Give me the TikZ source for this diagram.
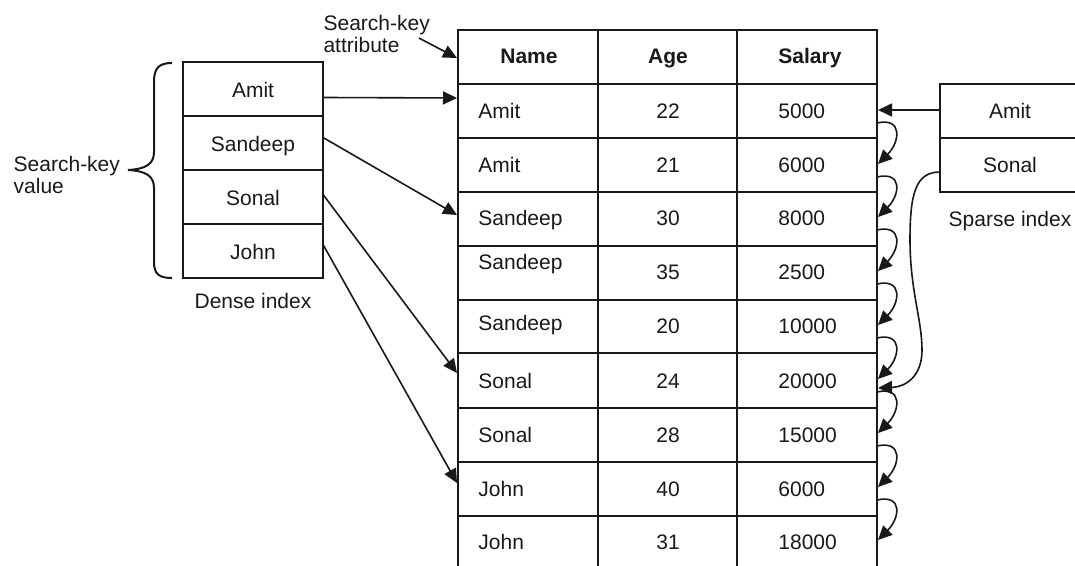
\documentclass[tikz,border=0pt]{standalone}
\usepackage{fontspec}
\setmainfont{Liberation Sans}
\usepackage{tikz}
\usetikzlibrary{arrows.meta, positioning}

\begin{document}
\begin{tikzpicture}[
    x=0.5pt, y=-0.5pt,
    color=black!90,
    font=\fontsize{10.5}{10.8}\selectfont,
    node distance=0pt,
    idx/.style={rectangle, draw, line width=1pt, outer sep=0pt, minimum width=70pt, minimum height=27pt, text height=7.6pt, text depth=0pt},
    txt/.style={inner sep=0pt},
    head/.style={txt, font=\fontsize{10.5}{10.8}\selectfont\bfseries},
    grid/.style={draw, line width=1pt, line cap=rect},
    arrow/.style={-{Triangle[length=7pt, width=6.5pt]}, line width=0.8pt},
    hop/.style={arrow}
]
\useasboundingbox (0,0) rectangle (1075,566);

% table grid, open at the bottom
\foreach \yy in {30,84,138,192,246,300,353,408,462,516}
  \draw [grid] (458,\yy) -- (877,\yy);
\foreach \xx in {458,598,737,877}
  \draw [grid] (\xx,30) -- (\xx,575);

\node (hName) [head, anchor=base] at (529,64) {Name};
\node (hAge) [head, anchor=base] at (668,64) {Age};
\node (hSalary) [head, anchor=base west] at (778,64) {Salary};

\foreach \nm/\ag/\sal/\yb/\yn [count=\i] in {Amit/22/5000/119/119, Amit/21/6000/173/173,
    Sandeep/30/8000/226/226, Sandeep/35/2500/280/270, Sandeep/20/10000/334/330,
    Sonal/24/20000/388/388, Sonal/28/15000/442/442, John/40/6000/496/496, John/31/18000/549/549}{
  \node (name\i) [txt, anchor=base west] at (478,\yn) {\nm};
  \node (age\i) [txt, anchor=base] at (668,\yb) {\ag};
  \node (sal\i) [txt, anchor=base west] at (778,\yb) {\sal};
  \coordinate (rin\i) at (878,\yb-9);
  \coordinate (rout\i) at (877,\yb+4);
}

% dense index
\node (dAmit) [idx] at (253,89.5) {Amit};
\node (dSandeep) [idx, below=of dAmit] {Sandeep};
\node (dSonal) [idx, below=of dSandeep] {Sonal};
\node (dJohn) [idx, below=of dSonal] {John};
\node (dlabel) [below=4pt of dJohn] {Dense index};

% sparse index
\node (sAmit) [idx] at (1010,111) {Amit};
\node (sSonal) [idx, below=of sAmit] {Sonal};
\node (slabel) [below=6pt of sSonal] {Sparse index};

\node (attr) [align=left, anchor=west] at (316.5,34) {Search-key\\attribute};
\coordinate (btip) at (128,170);
\node (skv) [align=left, left=0.5pt of btip, yshift=-2.5pt] {Search-key\\value};
\draw [line width=1pt] (172,63) .. controls (159,63) and (154,68) .. (154,82) -- (154,152)
  .. controls (154,164) and (146,169) .. (btip) .. controls (146,171) and (154,176) .. (154,188)
  -- (154,262) .. controls (154,274) and (159,278) .. (172,278);

\coordinate (tHead) at (457,58);
\coordinate (tAmit) at (457,98);
\coordinate (tSandeep) at (457,215);
\coordinate (tSonal) at (457,373);
\coordinate (tJohn) at (457,483);
\coordinate (rSonal) at (878,388);

\draw [arrow] ([shift={(-9pt,-2pt)}]attr.east) -- (tHead);
\draw [arrow] ([yshift=-4pt]dAmit.east) -- (tAmit);
\draw [arrow] ([yshift=3pt]dSandeep.east) -- (tSandeep);
\draw [arrow] ([yshift=1.5pt]dSonal.east) -- (tSonal);
\draw [arrow] ([yshift=3.5pt]dJohn.east) -- (tJohn);
\draw [arrow] (sAmit.west |- rin1) -- (rin1);
\draw [arrow] ([yshift=-3.5pt]sSonal.west) .. controls (915,172) and (910,195) .. (910,240)
  .. controls (910,290) and (922,320) .. (922,350) .. controls (922,377) and (905,387) .. (rSonal);
\foreach \i [evaluate=\i as \j using int(\i+1)] in {1,...,8}
  \draw [hop] (rout\i) .. controls +(26,-6) and +(22,-22) .. (rin\j);
\end{tikzpicture}
\end{document}
